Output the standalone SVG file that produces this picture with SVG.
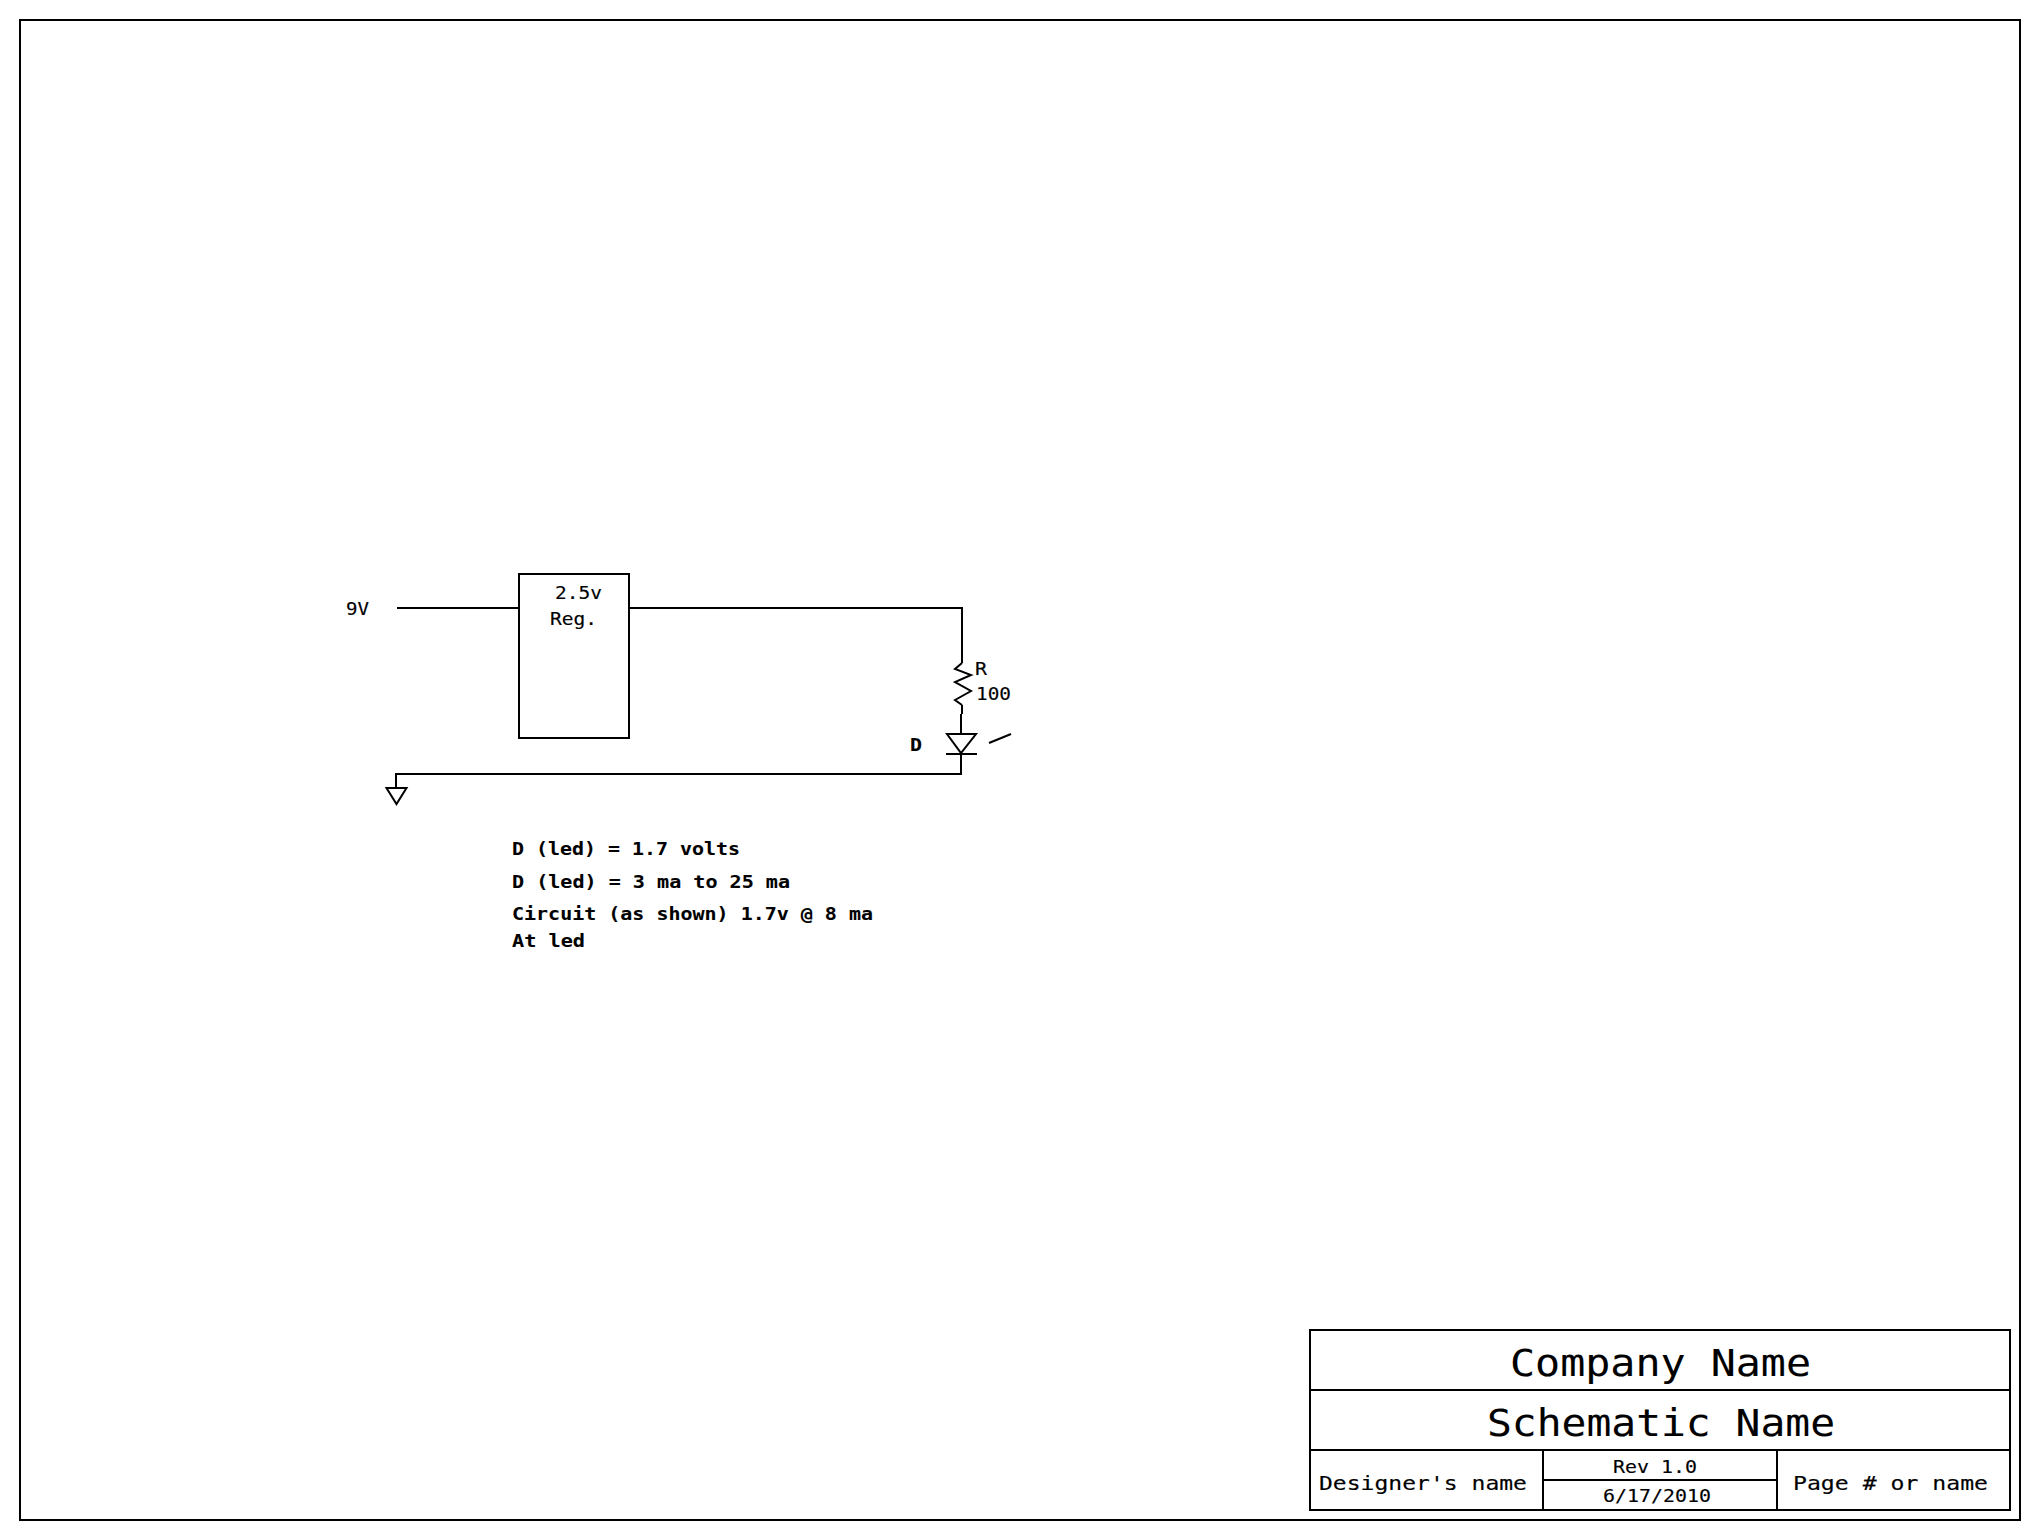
<svg xmlns="http://www.w3.org/2000/svg" width="2040" height="1540" viewBox="0 0 2040 1540">
<style>
.l{fill:none;stroke:#000;stroke-width:2;shape-rendering:crispEdges}
.z{fill:none;stroke:#000;stroke-width:2;stroke-linejoin:miter}
text{font-family:"DejaVu Sans Mono","Liberation Mono",monospace;fill:#000;stroke:#000;stroke-width:.15px}
.s{font-size:17px}
.n{font-size:18px;font-weight:bold;stroke-width:.1px}
.t{font-size:37px;stroke-width:.1px}
.m{font-size:19px}
.r{font-size:17px}
</style>
<rect width="2040" height="1540" fill="#fff"/>
<rect id="frame" class="l" x="20" y="20" width="2000" height="1500"/>
<g id="regulator">
<rect class="l" x="519" y="574" width="110" height="164"/>
<text class="s" x="555" y="599" textLength="47" lengthAdjust="spacingAndGlyphs">2.5v</text>
<text class="s" x="550" y="625" textLength="47" lengthAdjust="spacingAndGlyphs">Reg.</text>
</g>
<g id="label-9v"><text class="s" x="346" y="615" textLength="23" lengthAdjust="spacingAndGlyphs">9V</text></g>
<g id="connectors">
<path class="l" d="M397 608H519"/>
<path class="l" d="M630 608H962V663"/>
<path class="l" d="M962 705V714"/>
<path class="l" d="M961 714V734"/>
<path class="l" d="M961 754V774H396V788"/>
</g>
<g id="resistor">
<path class="z" d="M962 663L955 669L971 675L955 682L971 691L955 700L962 705"/>
<text class="s" x="975" y="675" textLength="12" lengthAdjust="spacingAndGlyphs">R</text>
<text class="s" x="976" y="700" textLength="35" lengthAdjust="spacingAndGlyphs">100</text>
</g>
<g id="led">
<path class="z" d="M947 734H976L961 753Z"/>
<path class="l" d="M946 754H977"/>
<path class="z" d="M989 743L1011 734"/>
<text class="s" x="910" y="751" font-weight="bold" textLength="12" lengthAdjust="spacingAndGlyphs">D</text>
</g>
<g id="ground"><path class="z" d="M386.500 788H406.500L396.500 804Z"/></g>
<g id="notes">
<text class="n" x="512" y="855" textLength="228" lengthAdjust="spacingAndGlyphs">D (led) = 1.7 volts</text>
<text class="n" x="512" y="888" textLength="278" lengthAdjust="spacingAndGlyphs">D (led) = 3 ma to 25 ma</text>
<text class="n" x="512" y="920" textLength="361" lengthAdjust="spacingAndGlyphs">Circuit (as shown) 1.7v @ 8 ma</text>
<text class="n" x="512" y="947" textLength="73" lengthAdjust="spacingAndGlyphs">At led</text>
</g>
<g id="title-block">
<rect class="l" x="1310" y="1330" width="700" height="180"/>
<path class="l" d="M1310 1390H2010M1310 1450H2010M1543 1450V1510M1777 1450V1510M1543 1480H1777"/>
<text class="t" x="1510" y="1376" textLength="301" lengthAdjust="spacingAndGlyphs">Company Name</text>
<text class="t" x="1487" y="1436" textLength="348" lengthAdjust="spacingAndGlyphs">Schematic Name</text>
<text class="m" x="1319" y="1490" textLength="208" lengthAdjust="spacingAndGlyphs">Designer's name</text>
<text class="r" x="1613" y="1473" textLength="84" lengthAdjust="spacingAndGlyphs">Rev 1.0</text>
<text class="r" x="1603" y="1502" textLength="108" lengthAdjust="spacingAndGlyphs">6/17/2010</text>
<text class="m" x="1793" y="1490" textLength="195" lengthAdjust="spacingAndGlyphs">Page # or name</text>
</g>
</svg>
